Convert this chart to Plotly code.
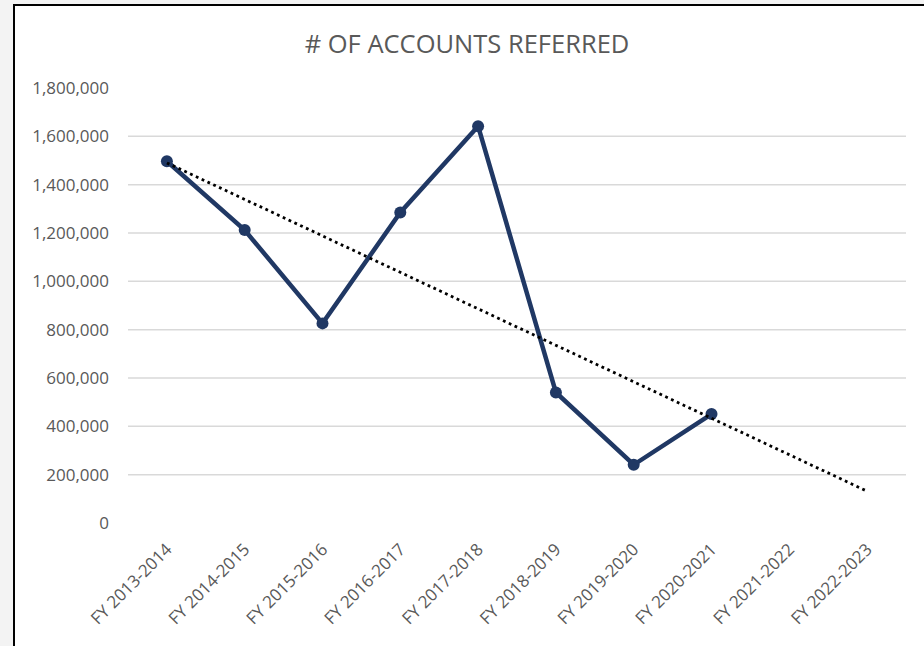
import numpy as np
import plotly.graph_objects as go

categories = ["FY 2013-2014", "FY 2014-2015", "FY 2015-2016", "FY 2016-2017", "FY 2017-2018",
              "FY 2018-2019", "FY 2019-2020", "FY 2020-2021", "FY 2021-2022", "FY 2022-2023"]
accounts = [1497000, 1212000, 826000, 1285000, 1642000, 540000, 241000, 451000]
y_ticks = [0, 200000, 400000, 600000, 800000, 1000000, 1200000, 1400000, 1600000, 1800000]
grid_values = [200000, 400000, 600000, 800000, 1000000, 1200000, 1400000, 1600000]

# Linear trendline (least squares), forecast forward through all categories
xi = np.arange(len(accounts))
slope, intercept = np.polyfit(xi, accounts, 1)
trend = [slope * i + intercept for i in range(len(categories))]

W, H = 924, 646
L, R, T, B = 128, 18, 88, 123
pw, ph = W - L - R, H - T - B

def px(x):
    return (x - L) / pw

def py(y):
    return (H - B - y) / ph

fig = go.Figure()
fig.add_trace(go.Scatter(
    x=categories[:len(accounts)], y=accounts, mode="lines+markers",
    line=dict(color="#203864", width=4.5),
    marker=dict(color="#203864", size=12),
    showlegend=False, hoverinfo="skip"))
fig.add_trace(go.Scatter(
    x=categories, y=trend, mode="lines",
    line=dict(color="#000000", width=2.8, dash="2.8px,3.6px"),
    showlegend=False, hoverinfo="skip"))

shapes = [dict(type="rect", xref="paper", yref="paper",
               x0=px(14), x1=px(940), y0=py(660), y1=py(5),
               line=dict(color="#000000", width=2), fillcolor="#ffffff", layer="below")]
for g in grid_values:
    shapes.append(dict(type="line", xref="paper", yref="y", x0=0, x1=1, y0=g, y1=g,
                       line=dict(color="#d9d9d9", width=1.5), layer="below"))

fig.update_layout(
    width=W, height=H,
    margin=dict(l=L, r=R, t=T, b=B, autoexpand=False),
    paper_bgcolor="#f3f3f3", plot_bgcolor="rgba(0,0,0,0)",
    shapes=shapes,
    title=dict(text="# OF ACCOUNTS REFERRED", xref="container", x=467 / W, xanchor="center",
               yref="container", y=1 - 44 / H, yanchor="middle",
               font=dict(family="Open Sans", size=25.5, color="#595959")),
    font=dict(family="Open Sans", color="#595959"),
    xaxis=dict(type="category", categoryorder="array", categoryarray=categories,
               range=[-0.5, len(categories) - 0.5], showgrid=False, zeroline=False,
               showline=False, tickangle=-45, ticks="", ticklabelstandoff=12,
               tickfont=dict(size=17, color="#595959")),
    yaxis=dict(range=[0, 1800000], tickvals=y_ticks, tickformat=",", showgrid=False,
               zeroline=False, showline=False, ticks="", ticklabelstandoff=18,
               tickfont=dict(size=17, color="#595959")),
)

fig.write_html("out.html", config={"displayModeBar": False},
               post_script="document.body.style.margin='0';")
